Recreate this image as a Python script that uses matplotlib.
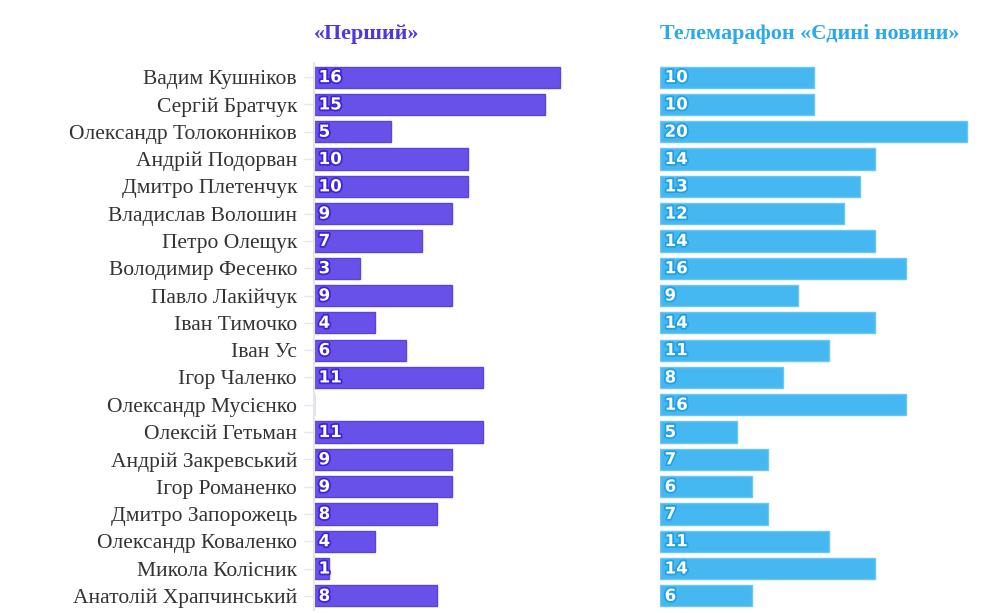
import numpy as np
import matplotlib
matplotlib.use('Agg')
import matplotlib.pyplot as plt
import matplotlib.patheffects as pe

names = ['Вадим Кушніков', 'Сергій Братчук', 'Олександр Толоконніков', 'Андрій Подорван',
         'Дмитро Плетенчук', 'Владислав Волошин', 'Петро Олещук', 'Володимир Фесенко',
         'Павло Лакійчук', 'Іван Тимочко', 'Іван Ус', 'Ігор Чаленко', 'Олександр Мусієнко',
         'Олексій Гетьман', 'Андрій Закревський', 'Ігор Романенко', 'Дмитро Запорожець',
         'Олександр Коваленко', 'Микола Колісник', 'Анатолій Храпчинський']
pershyi = [16, 15, 5, 10, 10, 9, 7, 3, 9, 4, 6, 11, None, 11, 9, 9, 8, 4, 1, 8]
marafon = [10, 10, 20, 14, 13, 12, 14, 16, 9, 14, 11, 8, 16, 5, 7, 6, 7, 11, 14, 6]
titles = ['«Перший»', 'Телемарафон «Єдині новини»']

W, H = 999, 613
fig = plt.figure(figsize=(W / 100, H / 100), dpi=100)

unit = 15.37  # px per unit
top, bottom = 63.5, 609.5
panels = [(314, 640, pershyi, '#6751E9', '#5a44e0', '#3b24d6', '#4d37e0'),
          (660, 990, marafon, '#45B8F1', '#6cc6f3', '#1e9fe6', '#2ba9ea')]

y = np.arange(len(names))
for i, (x0, x1, vals, col, edge, stroke, tcol) in enumerate(panels):
    ax = fig.add_axes([x0 / W, 1 - bottom / H, (x1 - x0) / W, (bottom - top) / H])
    v = np.array([0 if a is None else a for a in vals], dtype=float)
    ax.barh(y, v, height=0.78, color=col, edgecolor=edge, linewidth=1)
    for yi, a in zip(y, vals):
        if a is None:
            continue
        ax.text(0.3, yi, str(a), color='white', fontsize=12, fontweight='bold',
                family='DejaVu Sans', va='center', ha='left',
                path_effects=[pe.withStroke(linewidth=2.5, foreground=stroke)])
    ax.set_xlim(0, (x1 - x0) / unit)
    ax.set_ylim(len(names) - 0.5, -0.5)
    for s in ['top', 'right', 'bottom']:
        ax.spines[s].set_visible(False)
    ax.set_xticks([])
    ax.set_yticks(y)
    if i == 0:
        ax.spines['left'].set_color('#e6e6e6')
        ax.spines['left'].set_linewidth(1.5)
        ax.set_yticklabels(names, family='Liberation Serif', fontsize=15.5, color='#333333')
        ax.tick_params(axis='y', length=7, width=1, color='#e6e6e6', pad=5.2)
    else:
        ax.spines['left'].set_visible(False)
        ax.set_yticklabels([])
        ax.tick_params(axis='y', length=0)
    fig.text(x0 / W, 1 - 34 / H, titles[i], color=tcol, family='Liberation Serif',
             fontsize=15.9, fontweight='bold', ha='left', va='center')

fig.savefig('out.png', dpi=100)
